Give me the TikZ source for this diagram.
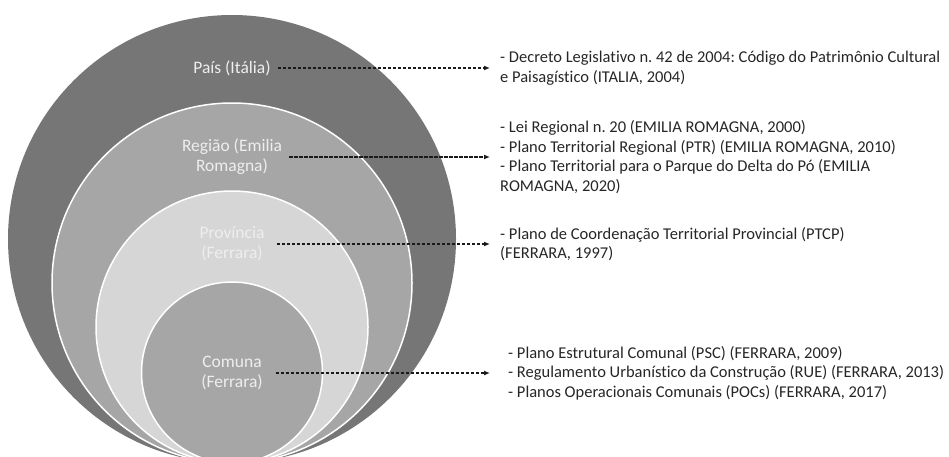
\documentclass[tikz,border=0pt]{standalone}
\usepackage{fontspec}
\setmainfont{Carlito}[Ligatures={NoCommon}]
\frenchspacing
\usetikzlibrary{arrows.meta}
\definecolor{ringA}{HTML}{767676}
\definecolor{ringB}{HTML}{A6A6A6}
\definecolor{ringC}{HTML}{D6D6D6}
\definecolor{labcol}{HTML}{EEEEEE}
\definecolor{txtcol}{HTML}{262626}
\definecolor{conncol}{HTML}{1A1A1A}
\tikzset{
  ring/.style={draw=white, line width=1.5pt},
  circlab/.style={text=labcol, align=center, font=\fontsize{17.5}{20}\selectfont, inner sep=0pt},
  reftext/.style={text=txtcol, align=left, anchor=west, font=\fontsize{16.5}{19.5}\selectfont, inner ysep=0pt, inner xsep=10pt},
  conn/.style={draw=conncol, line width=1.4pt, dash pattern=on 3.5pt off 1.5pt, -{Latex[length=6pt,width=5pt]}}
}
\begin{document}
\begin{tikzpicture}[x=1pt,y=-1pt]
\useasboundingbox (0,0) rectangle (949,457);
\begin{scope}
\clip (0,0) rectangle (949,457);
\fill[ringA] (232,239) circle[radius=224];
\draw[ring, fill=ringB] (232,283) circle[radius=180];
\draw[ring, fill=ringC] (232,327) circle[radius=136];
\draw[ring, fill=ringB] (232,372.5) circle[radius=90.5];
\end{scope}
% circle labels
\node[circlab] (l1) at (232,68) {País (Itália)};
\node[circlab] (l2) at (232,157) {Região (Emilia\\Romagna)};
\node[circlab] (l3) at (232,244) {Província\\(Ferrara)};
\node[circlab] (l4) at (232,373) {Comuna\\(Ferrara)};
% reference texts
\node[reftext] (t1) at (490,68) {- Decreto Legislativo n. 42 de 2004: Código do Patrimônio Cultural\\e Paisagístico (ITALIA, 2004)};
\node[reftext] (t2) at (490,157) {- Lei Regional n. 20 (EMILIA ROMAGNA, 2000)\\- Plano Territorial Regional (PTR) (EMILIA ROMAGNA, 2010)\\- Plano Territorial para o Parque do Delta do Pó (EMILIA\\ROMAGNA, 2020)};
\node[reftext] (t3) at (490,244) {- Plano de Coordenação Territorial Provincial (PTCP)\\(FERRARA, 1997)};
\node[reftext, inner xsep=18pt] (t4) at (490,373) {- Plano Estrutural Comunal (PSC) (FERRARA, 2009)\\- Regulamento Urbanístico da Construção (RUE) (FERRARA, 2013)\\- Planos Operacionais Comunais (POCs) (FERRARA, 2017)};
% connectors
\draw[conn, shorten <=7pt] (l1.east) -- (t1.west);
\draw[conn, shorten <=7pt] (l2.east) -- (t2.west);
\draw[conn, shorten <=12pt] (l3.east) -- (t3.west);
\draw[conn, shorten <=13pt] (l4.east) -- (t4.west);
\end{tikzpicture}
\end{document}
